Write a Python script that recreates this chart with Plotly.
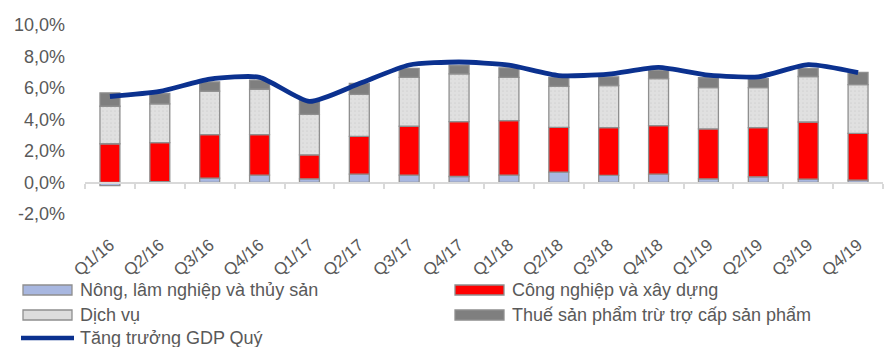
import plotly.graph_objects as go

# Quarterly GDP growth and sector contributions (percentage points)
quarters = ["Q1/16", "Q2/16", "Q3/16", "Q4/16", "Q1/17", "Q2/17", "Q3/17", "Q4/17",
            "Q1/18", "Q2/18", "Q3/18", "Q4/18", "Q1/19", "Q2/19", "Q3/19", "Q4/19"]
nong_lam_thuy_san = [-0.20, 0.05, 0.28, 0.47, 0.23, 0.53, 0.47, 0.38,
                     0.47, 0.66, 0.45, 0.53, 0.23, 0.36, 0.21, 0.15]
cong_nghiep_xay_dung = [2.46, 2.48, 2.76, 2.57, 1.53, 2.40, 3.10, 3.48,
                        3.46, 2.84, 3.03, 3.08, 3.17, 3.12, 3.63, 2.97]
dich_vu = [2.38, 2.46, 2.76, 2.88, 2.57, 2.66, 3.10, 3.04,
           2.74, 2.60, 2.68, 2.99, 2.63, 2.55, 2.89, 3.10]
thue_san_pham = [0.85, 0.66, 0.59, 0.58, 0.89, 0.70, 0.57, 0.53,
                 0.61, 0.57, 0.55, 0.53, 0.62, 0.57, 0.51, 0.77]
gdp_quy = [5.46, 5.78, 6.56, 6.68, 5.15, 6.28, 7.46, 7.65,
           7.45, 6.79, 6.88, 7.31, 6.82, 6.71, 7.48, 6.97]

y_ticks = [-2, 0, 2, 4, 6, 8, 10]
y_tick_text = [f"{v:.1f}%".replace(".", ",") for v in y_ticks]

FONT = "Liberation Sans, Arial, sans-serif"
TEXT = "#595959"
EDGE = "#8f8f8f"

series = [
    ("Nông, lâm nghiệp và thủy sản", nong_lam_thuy_san, "#a8b7e0", None),
    ("Công nghiệp và xây dựng", cong_nghiep_xay_dung, "#ff0000", None),
    ("Dịch vụ", dich_vu, "#dcdcdc", dict(shape=".", fgcolor="#c4c4c4", bgcolor="#e0e0e0", size=4, solidity=0.15)),
    ("Thuế sản phẩm trừ trợ cấp sản phẩm", thue_san_pham, "#7f7f7f", None),
]

fig = go.Figure()
for name, vals, color, pattern in series:
    marker = dict(color=color, line=dict(color=EDGE, width=1.3))
    if pattern:
        marker["pattern"] = pattern
    fig.add_trace(go.Bar(x=quarters, y=vals, name=name, marker=marker,
                         width=0.4, showlegend=False))

fig.add_trace(go.Scatter(x=quarters, y=gdp_quy, name="Tăng trưởng GDP Quý",
                         mode="lines", line=dict(color="#0b318f", width=4.8, shape="spline", smoothing=0.6),
                         xaxis="x2", showlegend=False))

# Plot area in pixels: x 85..883, y 25..214
L, R, T, B = 85, 883, 25, 214
W, H = R - L, B - T


def px(x):
    return (x - L) / W


def py(y):
    return (B - y) / H


shapes = []
annotations = []
legend_rows = [290, 315, 338]
legend_items = [
    (0, 0, series[0][0], "bar", series[0][2]),
    (1, 0, series[1][0], "bar", series[1][2]),
    (0, 1, series[2][0], "bar", series[2][2]),
    (1, 1, series[3][0], "bar", series[3][2]),
    (0, 2, "Tăng trưởng GDP Quý", "line", "#0b318f"),
]
col_x = [23, 455]
for col, row, label, kind, color in legend_items:
    x0 = col_x[col]
    yc = legend_rows[row]
    if kind == "bar":
        shapes.append(dict(type="rect", xref="paper", yref="paper",
                           x0=px(x0), x1=px(x0 + 49), y0=py(yc + 5), y1=py(yc - 5),
                           fillcolor=color, line=dict(color=EDGE, width=1.3)))
    else:
        shapes.append(dict(type="line", xref="paper", yref="paper",
                           x0=px(x0 - 2), x1=px(x0 + 51), y0=py(yc), y1=py(yc),
                           line=dict(color=color, width=4.5)))
    annotations.append(dict(text=label, xref="paper", yref="paper",
                            x=px(x0 + 55), y=py(yc), xanchor="left", yanchor="middle",
                            showarrow=False, font=dict(family=FONT, size=18, color=TEXT)))

fig.update_layout(
    width=891, height=347,
    margin=dict(l=L, r=891 - R, t=T, b=347 - B),
    paper_bgcolor="white", plot_bgcolor="white",
    barmode="relative",
    font=dict(family=FONT, color=TEXT),
    xaxis=dict(type="category", categoryorder="array", categoryarray=quarters,
               range=[-0.5, 15.5], showline=False, showgrid=False, zeroline=False,
               ticks="", tickangle=-40, ticklabelstandoff=17,
               tickfont=dict(family=FONT, size=17, color=TEXT)),
    xaxis2=dict(type="category", categoryorder="array", categoryarray=quarters,
                overlaying="x", anchor="free", position=1 / 6, range=[-0.5, 15.5],
                showline=True, linecolor="#d9d9d9", linewidth=2,
                ticks="outside", ticklen=5, tickwidth=2, tickcolor="#d9d9d9",
                tickson="boundaries", showticklabels=False, showgrid=False, zeroline=False),
    yaxis=dict(range=[-2, 10], tickvals=y_ticks, ticktext=y_tick_text,
               showgrid=False, zeroline=False, showline=False, ticks="",
               ticklabelstandoff=19, tickfont=dict(family=FONT, size=18, color=TEXT)),
    shapes=shapes, annotations=annotations,
)

fig.write_html("out.html")
